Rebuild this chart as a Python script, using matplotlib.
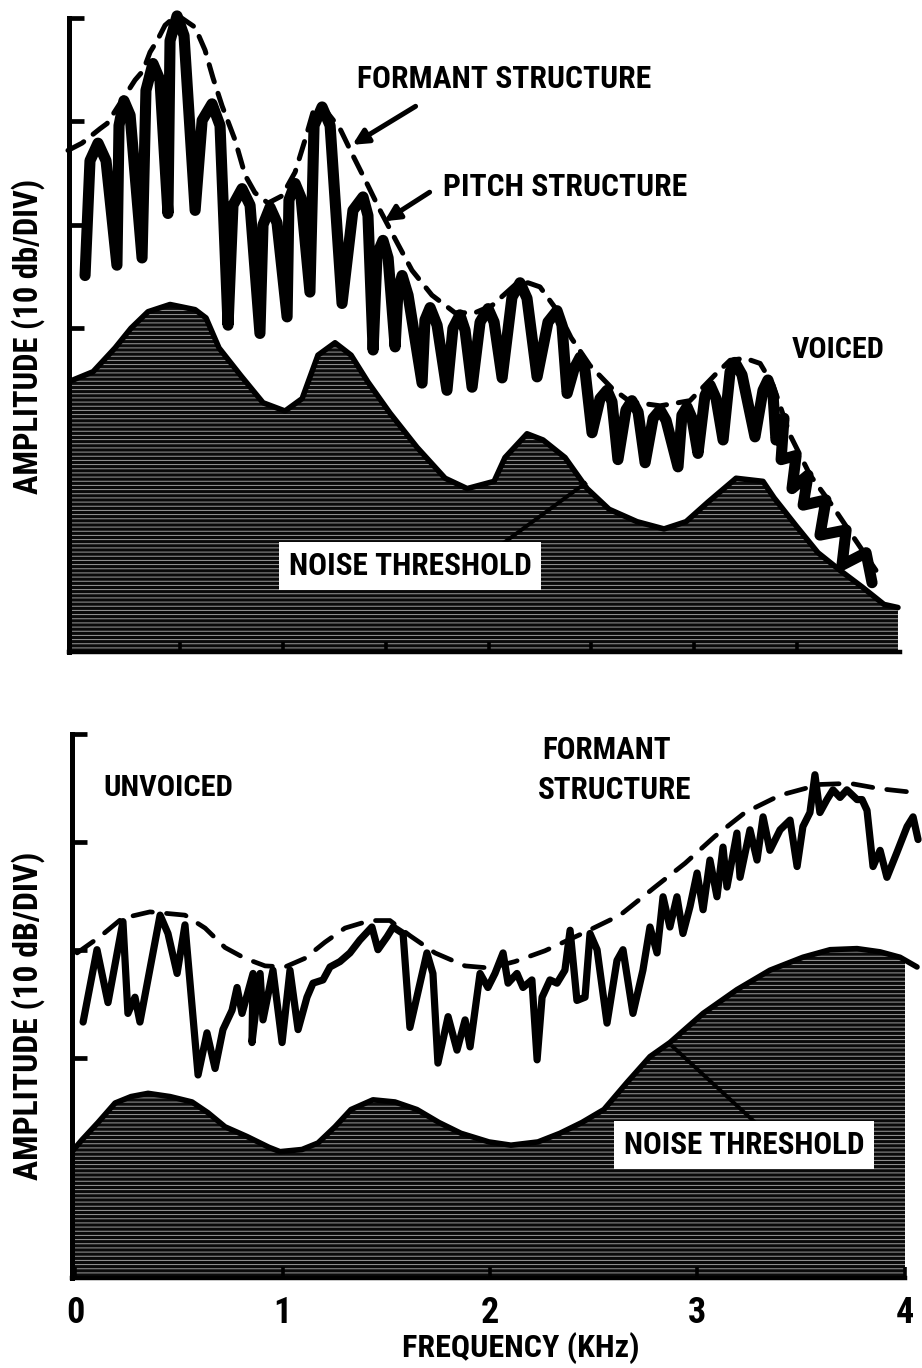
import matplotlib
matplotlib.use("Agg")
import matplotlib.pyplot as plt
from matplotlib.patches import Rectangle
from matplotlib import font_manager as fm

# ---------------- DATA (frequency in kHz, amplitude in dB) ----------------
# Voiced: pitch (harmonic) structure
voiced_freq = [0.039, 0.063, 0.102, 0.141, 0.194, 0.204, 0.228, 0.258, 0.316, 0.335,
               0.369, 0.403, 0.442, 0.452, 0.486, 0.520, 0.574, 0.608, 0.656, 0.695,
               0.734, 0.758, 0.802, 0.841, 0.889, 0.904, 0.938, 0.972, 1.021, 1.030,
               1.060, 1.089, 1.132, 1.152, 1.191, 1.230, 1.288, 1.341, 1.390, 1.414,
               1.439, 1.458, 1.487, 1.512, 1.546, 1.560, 1.580, 1.609, 1.677, 1.691,
               1.716, 1.750, 1.798, 1.827, 1.861, 1.886, 1.920, 1.959, 1.998, 2.027,
               2.066, 2.114, 2.153, 2.187, 2.236, 2.289, 2.333, 2.357, 2.382, 2.416,
               2.445, 2.469, 2.503, 2.542, 2.576, 2.600, 2.629, 2.668, 2.697, 2.727,
               2.761, 2.800, 2.834, 2.863, 2.921, 2.940, 2.965, 2.989, 3.018, 3.052,
               3.077, 3.106, 3.140, 3.174, 3.198, 3.232, 3.295, 3.334, 3.358, 3.383,
               3.397, 3.436, 3.422, 3.495, 3.475, 3.553, 3.529, 3.640, 3.611, 3.738,
               3.718, 3.835, 3.864]
voiced_db = [35.1, 46.2, 47.9, 46.2, 36.1, 49.6, 52.0, 50.6, 36.8, 53.0,
             55.6, 54.0, 41.1, 57.8, 60.2, 58.3, 41.4, 50.1, 51.7, 49.6,
             30.3, 41.9, 43.5, 41.9, 29.5, 40.0, 41.7, 40.2, 31.1, 42.4,
             44.0, 42.6, 33.5, 49.6, 51.4, 49.6, 32.4, 41.4, 42.7, 40.9,
             27.9, 37.1, 38.5, 36.8, 28.2, 33.7, 35.1, 33.2, 24.7, 30.8,
             32.0, 30.3, 24.0, 30.0, 31.3, 29.8, 24.3, 30.6, 31.9, 30.6,
             25.2, 33.0, 34.4, 32.9, 25.3, 30.6, 31.7, 30.3, 23.7, 26.1,
             27.2, 25.9, 19.9, 23.2, 24.0, 22.9, 17.3, 22.1, 23.0, 21.9,
             17.0, 21.3, 22.1, 21.1, 16.6, 21.6, 22.4, 21.3, 17.9, 23.5,
             24.5, 23.2, 19.2, 25.8, 26.7, 25.5, 19.5, 24.0, 25.0, 23.5,
             19.2, 21.3, 17.3, 17.7, 14.5, 15.8, 12.9, 13.4, 10.0, 10.5,
             7.1, 8.3, 5.4]

# Voiced: formant envelope (dashed)
vformant_freq = [-0.044, 0.024, 0.112, 0.146, 0.282, 0.321, 0.355, 0.389, 0.428, 0.486,
                 0.574, 0.622, 0.661, 0.705, 0.768, 0.817, 0.865, 0.928, 0.996, 1.060,
                 1.108, 1.147, 1.191, 1.278, 1.341, 1.414, 1.473, 1.555, 1.628, 1.725,
                 1.837, 1.934, 2.017, 2.129, 2.192, 2.250, 2.338, 2.401, 2.493, 2.600,
                 2.688, 2.834, 2.979, 3.101, 3.174, 3.247, 3.320, 3.383, 3.465, 3.563,
                 3.669, 3.767, 3.883]
vformant_db = [47.2, 47.9, 49.3, 49.8, 54.0, 54.9, 56.7, 57.8, 59.3, 60.3,
               59.1, 56.9, 54.2, 51.5, 48.2, 44.8, 43.1, 42.1, 42.8, 45.1,
               48.2, 50.9, 51.5, 49.3, 46.7, 43.8, 41.4, 38.3, 35.6, 33.2,
               31.5, 31.5, 32.2, 34.2, 34.4, 34.0, 31.6, 29.1, 26.4, 24.2,
               22.9, 22.5, 23.0, 25.5, 26.9, 27.1, 26.6, 24.5, 19.7, 15.8,
               12.9, 10.0, 6.6]

# Voiced: noise threshold
vnoise_freq = [-0.044, 0.078, 0.185, 0.262, 0.345, 0.452, 0.574, 0.627, 0.690, 0.797,
               0.904, 1.011, 1.094, 1.171, 1.254, 1.332, 1.414, 1.521, 1.652, 1.789,
               1.896, 2.027, 2.080, 2.187, 2.265, 2.372, 2.479, 2.586, 2.722, 2.853,
               2.960, 3.067, 3.203, 3.334, 3.388, 3.495, 3.601, 3.708, 3.815, 3.922,
               3.990]
vnoise_db = [24.8, 25.8, 28.1, 30.0, 31.6, 32.3, 31.8, 31.0, 28.1, 25.4,
             22.8, 22.0, 23.2, 27.4, 28.6, 27.4, 24.8, 21.8, 18.5, 15.5,
             14.5, 15.2, 17.5, 19.8, 19.2, 17.5, 14.5, 12.5, 11.3, 10.6,
             11.3, 13.2, 15.5, 15.2, 13.6, 10.9, 8.3, 6.6, 5.0, 3.3,
             3.0]

# Unvoiced spectrum
unv_freq = [0.039, 0.106, 0.159, 0.231, 0.255, 0.289, 0.313, 0.410, 0.448, 0.492,
            0.530, 0.593, 0.636, 0.675, 0.713, 0.757, 0.781, 0.805, 0.858, 0.853,
            0.892, 0.906, 0.954, 0.998, 1.036, 1.075, 1.118, 1.147, 1.195, 1.229,
            1.277, 1.325, 1.373, 1.431, 1.460, 1.504, 1.533, 1.581, 1.614, 1.696,
            1.725, 1.749, 1.798, 1.841, 1.880, 1.904, 1.952, 1.990, 2.024, 2.063,
            2.087, 2.130, 2.159, 2.202, 2.227, 2.251, 2.289, 2.323, 2.361, 2.386,
            2.419, 2.458, 2.482, 2.516, 2.564, 2.612, 2.641, 2.689, 2.737, 2.771,
            2.805, 2.834, 2.867, 2.901, 2.930, 2.964, 2.998, 3.027, 3.060, 3.094,
            3.123, 3.142, 3.190, 3.205, 3.253, 3.287, 3.316, 3.349, 3.398, 3.446,
            3.480, 3.508, 3.542, 3.566, 3.590, 3.624, 3.653, 3.687, 3.720, 3.769,
            3.793, 3.817, 3.846, 3.880, 3.913, 3.961, 4.010, 4.039, 4.063]
unv_db = [23.3, 30.0, 25.1, 32.6, 24.1, 25.6, 23.3, 33.2, 31.5, 27.8,
          32.3, 18.4, 22.3, 19.0, 22.6, 24.4, 26.5, 24.1, 27.8, 21.4,
          27.8, 23.5, 28.1, 21.4, 28.1, 22.6, 25.6, 26.9, 27.2, 28.4,
          28.9, 29.7, 30.9, 32.1, 30.0, 31.2, 32.1, 31.5, 22.8, 29.7,
          27.8, 19.5, 23.8, 20.7, 23.5, 21.0, 27.8, 26.5, 27.8, 29.7,
          26.9, 27.8, 26.5, 27.2, 19.8, 25.6, 27.2, 26.9, 28.1, 31.8,
          25.3, 25.6, 31.5, 30.0, 23.2, 29.0, 30.0, 24.1, 28.1, 32.1,
          29.7, 34.9, 32.1, 34.9, 31.5, 34.0, 37.1, 33.7, 38.3, 34.9,
          39.5, 35.8, 40.8, 36.7, 41.1, 38.3, 42.3, 39.2, 41.1, 42.0,
          37.7, 41.4, 42.7, 46.2, 42.7, 43.9, 44.8, 44.1, 44.8, 43.9,
          43.9, 42.9, 37.7, 39.2, 36.7, 39.0, 41.4, 42.3, 40.2]

# Unvoiced: formant envelope (dashed)
uformant_freq = [0.010, 0.120, 0.227, 0.361, 0.530, 0.627, 0.723, 0.819, 0.916, 1.012,
                 1.108, 1.205, 1.301, 1.422, 1.518, 1.614, 1.735, 1.880, 2.000, 2.120,
                 2.265, 2.434, 2.627, 2.795, 2.940, 3.084, 3.229, 3.398, 3.590, 3.735,
                 3.880, 4.072]
uformant_db = [29.7, 31.2, 32.9, 33.5, 33.2, 32.0, 30.2, 29.2, 28.5, 28.4,
               29.2, 30.7, 32.0, 32.7, 32.7, 31.3, 29.7, 28.5, 28.3, 28.9,
               29.9, 31.4, 33.2, 35.8, 38.0, 40.5, 42.7, 44.3, 45.3, 45.4,
               44.9, 44.5]

# Unvoiced: noise threshold
unoise_freq = [-0.019, 0.034, 0.111, 0.193, 0.270, 0.352, 0.458, 0.564, 0.641, 0.723,
               0.829, 0.935, 0.988, 1.094, 1.171, 1.253, 1.330, 1.436, 1.542, 1.648,
               1.754, 1.860, 1.995, 2.101, 2.231, 2.337, 2.443, 2.549, 2.660, 2.771,
               2.867, 3.027, 3.190, 3.349, 3.508, 3.639, 3.769, 3.880, 3.976, 4.058]
unoise_db = [11.2, 12.4, 14.0, 15.8, 16.4, 16.7, 16.4, 15.9, 14.9, 13.6,
             12.7, 11.7, 11.3, 11.5, 12.1, 13.6, 15.2, 16.1, 15.9, 15.2,
             14.0, 13.0, 12.2, 11.9, 12.2, 13.0, 14.0, 15.2, 17.7, 20.1,
             21.4, 24.1, 26.3, 28.1, 29.3, 30.0, 30.1, 29.8, 29.3, 28.4]

x_ticks_top = [0.5, 1.0, 1.5, 2.0, 2.5, 3.0, 3.5]
y_ticks_top = [30, 40, 50, 60]
x_ticks_bot = [0, 1, 2, 3, 4]
x_tick_labels = ["0", "1", "2", "3", "4"]
y_ticks_bot = [20, 30, 40, 50]

# ---------------- FONT: pick a bold condensed face if one is installed ----------------
def find_condensed_bold():
    prefs = ['liberationsansnarrow', 'robotocondensed', 'notosans', 'opensans',
             'dejavusans', 'liberationsans', 'lato', 'inter']
    found = {}
    for f in fm.fontManager.ttflist:
        key = f.fname.lower().replace('-', '').replace('_', '').replace(' ', '')
        base = key.rsplit('/', 1)[-1]
        if not ('narrow' in base or 'condensed' in base or 'cond' in base):
            continue
        if 'italic' in base or 'oblique' in base:
            continue
        if 'bold' not in base or 'semibold' in base or 'extrabold' in base:
            continue
        if 'semicondensed' in base or 'extracondensed' in base:
            continue
        for p in prefs:
            if base.startswith(p):
                found.setdefault(p, f.fname)
    for p in prefs:
        if p in found:
            return found[p]
    return None


COND = find_condensed_bold()


def fprops(size):
    if COND:
        return fm.FontProperties(fname=COND, size=size)
    return fm.FontProperties(family='DejaVu Sans', weight='bold', stretch='condensed', size=size)


W, H = 922, 1368
fig = plt.figure(figsize=(W / 100, H / 100), dpi=100)
fig.patch.set_facecolor('white')
plt.rcParams['hatch.linewidth'] = 0.7


def fx(px):
    return px / W


def fy(py):
    return 1 - py / H


ax1 = fig.add_axes([68.8 / W, 1 - 652 / H, (920.6 - 68.8) / W, 634 / H])
ax2 = fig.add_axes([72 / W, 1 - 1278 / H, 850 / W, 544.3 / H])

ax1.set_xlim(-0.04, 4.1)
ax1.set_ylim(-1.3, 60)
ax2.set_xlim(-0.0145, 4.082)
ax2.set_ylim(-0.4, 50)

for ax in (ax1, ax2):
    ax.set_facecolor('none')
    for s in ('top', 'right'):
        ax.spines[s].set_visible(False)
    ax.spines['left'].set_linewidth(3.6)
    ax.spines['bottom'].set_linewidth(3.2)
    ax.set_axisbelow(False)
ax1.spines['bottom'].set_bounds(-0.04, 4.0)
ax2.spines['bottom'].set_bounds(-0.0145, 4.0)


def noise_fill(ax, xs, ys, xmax):
    poly = ax.fill_between(xs, ys, ax.get_ylim()[0], facecolor='#0a0a0a',
                           edgecolor='#9c9c9c', hatch='----', linewidth=0, zorder=1)
    clip = Rectangle((-1, -10), 1 + xmax, 100, transform=ax.transData)
    poly.set_clip_path(clip)
    ax.plot(xs, ys, color='black', lw=4, solid_capstyle='round', zorder=2)


# ----- top panel (voiced) -----
noise_fill(ax1, vnoise_freq, vnoise_db, 4.0)
ax1.plot(voiced_freq, voiced_db, color='black', lw=8, solid_joinstyle='round',
         solid_capstyle='round', zorder=4, clip_on=False)
ax1.plot(vformant_freq, vformant_db, color='black', lw=3.6, linestyle=(0, (3.6, 2.4)),
         dash_capstyle='round', zorder=5, clip_on=False)

ax1.set_xticks(x_ticks_top)
ax1.set_xticklabels([])
ax1.set_yticks(y_ticks_top)
ax1.set_yticklabels([])
ax1.tick_params(axis='y', direction='in', length=11, width=3.4, color='black')
ax1.tick_params(axis='x', direction='in', length=7, width=2.6, color='black')

ax1.annotate('', xy=(1.327, 47.6), xytext=(1.657, 51.6),
             arrowprops=dict(arrowstyle='-|>,head_length=0.9,head_width=0.45',
                             color='black', lw=3.6), zorder=6)
ax1.annotate('', xy=(1.482, 40.2), xytext=(1.725, 43.3),
             arrowprops=dict(arrowstyle='-|>,head_length=0.9,head_width=0.45',
                             color='black', lw=3.6), zorder=6)
ax1.plot([2.070, 2.469], [9.2, 15.0], color='black', lw=2.8, zorder=3)

# ----- bottom panel (unvoiced) -----
noise_fill(ax2, unoise_freq, unoise_db, 4.0)
ax2.plot(unv_freq, unv_db, color='black', lw=5.2, solid_joinstyle='round',
         solid_capstyle='round', zorder=4, clip_on=False)
ax2.plot(uformant_freq, uformant_db, color='black', lw=3.4, linestyle=(0, (4.2, 3.0)),
         dash_capstyle='round', zorder=5, clip_on=False)
ax2.plot([2.882, 3.301], [21.0, 13.6], color='black', lw=2.8, zorder=3)

ax2.set_xticks(x_ticks_bot)
ax2.set_xticklabels(x_tick_labels)
for lab in ax2.get_xticklabels():
    lab.set_fontproperties(fprops(26))
ax2.set_yticks(y_ticks_bot)
ax2.set_yticklabels([])
ax2.tick_params(axis='y', direction='in', length=11, width=3.4, color='black')
ax2.tick_params(axis='x', direction='in', length=8, width=2.6, color='black', pad=12)

# ----- texts, sized to the reference widths -----
renderer = fig.canvas.get_renderer()
MAXSIZE = 25


def put(s, cx, cy, target, rotation=0, box=False):
    kw = dict(ha='center', va='center', color='black', rotation=rotation, zorder=10)
    if box:
        kw['bbox'] = dict(boxstyle='square,pad=0.3', facecolor='white', edgecolor='none')
    t = fig.text(fx(cx), fy(cy), s, fontproperties=fprops(MAXSIZE), **kw)
    ext = t.get_window_extent(renderer=renderer)
    span = ext.height if rotation else ext.width
    size = min(MAXSIZE * 1.15, MAXSIZE * target / span)
    t.set_fontproperties(fprops(size))
    return t


put('FORMANT STRUCTURE', 504, 79, 295)
put('PITCH STRUCTURE', 565, 187, 245)
put('VOICED', 838, 350, 93)
put('NOISE THRESHOLD', 410, 566, 244, box=True)
put('UNVOICED', 168, 788, 130)
put('FORMANT', 607, 750, 129)
put('STRUCTURE', 615, 790, 154)
put('NOISE THRESHOLD', 744, 1145, 242, box=True)
put('FREQUENCY (KHz)', 521, 1348, 237)
put('AMPLITUDE (10 db/DIV)', 28, 336, 316, rotation=90)
put('AMPLITUDE (10 dB/DIV)', 28, 1016, 329, rotation=90)

fig.savefig('out.png', dpi=100, facecolor='white')
